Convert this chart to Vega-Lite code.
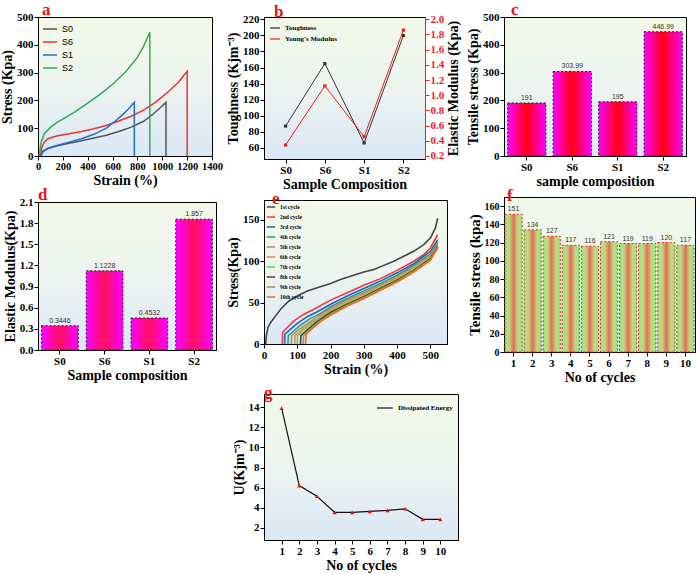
{
  "$schema": "https://vega.github.io/schema/vega-lite/v6.json",
  "background": "white",
  "padding": {"left": 0, "top": 0, "right": 3, "bottom": 0},
  "config": {
    "font": "Liberation Serif",
    "view": {"stroke": "black", "strokeWidth": 1, "fill": {"gradient": "linear", "x1": 0, "y1": 0, "x2": 0, "y2": 1, "stops": [{"offset": 0, "color": "#f2f9e8"}, {"offset": 0.5, "color": "#edf4f0"}, {"offset": 1, "color": "#dae7f5"}]}},
    "axis": {"labelFont": "Liberation Serif", "labelFontWeight": "bold", "labelFontSize": 11, "labelColor": "black", "titleFont": "Liberation Serif", "titleFontWeight": "bold", "titleFontSize": 14, "titleColor": "black", "domainColor": "black", "tickColor": "black", "tickSize": 4, "grid": false, "labelPadding": 1, "titlePadding": 2, "labelAngle": 0, "labelOverlap": false, "labelBound": false, "labelFlush": false},
    "title": {"font": "Liberation Serif", "fontSize": 17, "fontWeight": "bold", "color": "#ee1111", "anchor": "start", "frame": "group", "offset": -8},
    "legend": {"titleFontSize": 0, "padding": 2, "offset": 3}
  },
  "datasets": {
    "curves": [
      {"s":"S0","i":1,"x":20,"y":0},{"s":"S0","i":2,"x":40,"y":18},{"s":"S0","i":3,"x":80,"y":27},{"s":"S0","i":4,"x":150,"y":36},{"s":"S0","i":5,"x":250,"y":46},{"s":"S0","i":6,"x":350,"y":55},{"s":"S0","i":7,"x":450,"y":65},{"s":"S0","i":8,"x":550,"y":75},{"s":"S0","i":9,"x":650,"y":88},{"s":"S0","i":10,"x":750,"y":104},{"s":"S0","i":11,"x":850,"y":125},{"s":"S0","i":12,"x":930,"y":152},{"s":"S0","i":13,"x":990,"y":176},{"s":"S0","i":14,"x":1030,"y":193},{"s":"S0","i":15,"x":1030,"y":0},
      {"s":"S6","i":1,"x":20,"y":0},{"s":"S6","i":2,"x":30,"y":30},{"s":"S6","i":3,"x":50,"y":50},{"s":"S6","i":4,"x":80,"y":62},{"s":"S6","i":5,"x":150,"y":72},{"s":"S6","i":6,"x":250,"y":80},{"s":"S6","i":7,"x":350,"y":88},{"s":"S6","i":8,"x":450,"y":98},{"s":"S6","i":9,"x":550,"y":110},{"s":"S6","i":10,"x":650,"y":126},{"s":"S6","i":11,"x":750,"y":143},{"s":"S6","i":12,"x":850,"y":165},{"s":"S6","i":13,"x":950,"y":195},{"s":"S6","i":14,"x":1050,"y":232},{"s":"S6","i":15,"x":1130,"y":265},{"s":"S6","i":16,"x":1200,"y":305},{"s":"S6","i":17,"x":1200,"y":0},
      {"s":"S1","i":1,"x":25,"y":0},{"s":"S1","i":2,"x":40,"y":15},{"s":"S1","i":3,"x":80,"y":28},{"s":"S1","i":4,"x":150,"y":38},{"s":"S1","i":5,"x":250,"y":50},{"s":"S1","i":6,"x":350,"y":62},{"s":"S1","i":7,"x":450,"y":78},{"s":"S1","i":8,"x":550,"y":100},{"s":"S1","i":9,"x":620,"y":125},{"s":"S1","i":10,"x":680,"y":148},{"s":"S1","i":11,"x":730,"y":170},{"s":"S1","i":12,"x":775,"y":193},{"s":"S1","i":13,"x":775,"y":0},
      {"s":"S2","i":1,"x":10,"y":0},{"s":"S2","i":2,"x":25,"y":50},{"s":"S2","i":3,"x":50,"y":80},{"s":"S2","i":4,"x":100,"y":103},{"s":"S2","i":5,"x":150,"y":120},{"s":"S2","i":6,"x":200,"y":133},{"s":"S2","i":7,"x":300,"y":160},{"s":"S2","i":8,"x":400,"y":190},{"s":"S2","i":9,"x":500,"y":222},{"s":"S2","i":10,"x":600,"y":258},{"s":"S2","i":11,"x":700,"y":300},{"s":"S2","i":12,"x":800,"y":355},{"s":"S2","i":13,"x":850,"y":395},{"s":"S2","i":14,"x":900,"y":445},{"s":"S2","i":15,"x":900,"y":0}
    ],
    "props": [
      {"s":"S0","t":87,"ts":191,"tsl":"191","em":0.3446,"eml":"0.3446"},
      {"s":"S6","t":165,"ts":303.99,"tsl":"303.99","em":1.1228,"eml":"1.1228"},
      {"s":"S1","t":66,"ts":195,"tsl":"195","em":0.4532,"eml":"0.4532"},
      {"s":"S2","t":200,"ts":446.99,"tsl":"446.99","em":1.857,"eml":"1.857"}
    ],
    "cycles": [
      {"c":1,"ts":151,"u":13.9},{"c":2,"ts":134,"u":6.2},{"c":3,"ts":127,"u":5.15},{"c":4,"ts":117,"u":3.55},{"c":5,"ts":116,"u":3.55},{"c":6,"ts":121,"u":3.65},{"c":7,"ts":119,"u":3.75},{"c":8,"ts":119,"u":3.9},{"c":9,"ts":120,"u":2.85},{"c":10,"ts":117,"u":2.85}
    ],
    "ecurves": [
      {"cy":"1st cycle","k":1,"x":5,"y":0},{"cy":"1st cycle","k":2,"x":7,"y":10},{"cy":"1st cycle","k":3,"x":12,"y":20},{"cy":"1st cycle","k":4,"x":20,"y":26},{"cy":"1st cycle","k":5,"x":35,"y":34},{"cy":"1st cycle","k":6,"x":50,"y":42},{"cy":"1st cycle","k":7,"x":75,"y":52},{"cy":"1st cycle","k":8,"x":100,"y":58},{"cy":"1st cycle","k":9,"x":130,"y":64},{"cy":"1st cycle","k":10,"x":160,"y":68},{"cy":"1st cycle","k":11,"x":200,"y":73},{"cy":"1st cycle","k":12,"x":230,"y":78},{"cy":"1st cycle","k":13,"x":260,"y":82},{"cy":"1st cycle","k":14,"x":300,"y":87},{"cy":"1st cycle","k":15,"x":330,"y":90},{"cy":"1st cycle","k":16,"x":360,"y":95},{"cy":"1st cycle","k":17,"x":390,"y":100},{"cy":"1st cycle","k":18,"x":420,"y":106},{"cy":"1st cycle","k":19,"x":450,"y":112},{"cy":"1st cycle","k":20,"x":480,"y":120},{"cy":"1st cycle","k":21,"x":500,"y":128},{"cy":"1st cycle","k":22,"x":515,"y":140},{"cy":"1st cycle","k":23,"x":522,"y":152},
      {"cy":"2nd cycle","k":1,"x":55,"y":0},{"cy":"2nd cycle","k":2,"x":56,"y":14},{"cy":"2nd cycle","k":3,"x":70,"y":20},{"cy":"2nd cycle","k":4,"x":90,"y":28},{"cy":"2nd cycle","k":5,"x":120,"y":36},{"cy":"2nd cycle","k":6,"x":150,"y":42},{"cy":"2nd cycle","k":7,"x":200,"y":53},{"cy":"2nd cycle","k":8,"x":250,"y":62},{"cy":"2nd cycle","k":9,"x":300,"y":71},{"cy":"2nd cycle","k":10,"x":350,"y":79},{"cy":"2nd cycle","k":11,"x":400,"y":89},{"cy":"2nd cycle","k":12,"x":450,"y":100},{"cy":"2nd cycle","k":13,"x":480,"y":108},{"cy":"2nd cycle","k":14,"x":500,"y":116},{"cy":"2nd cycle","k":15,"x":522,"y":132},
      {"cy":"3rd cycle","k":1,"x":62,"y":0},{"cy":"3rd cycle","k":2,"x":63,"y":12},{"cy":"3rd cycle","k":3,"x":80,"y":18},{"cy":"3rd cycle","k":4,"x":100,"y":25},{"cy":"3rd cycle","k":5,"x":130,"y":33},{"cy":"3rd cycle","k":6,"x":160,"y":39},{"cy":"3rd cycle","k":7,"x":200,"y":48},{"cy":"3rd cycle","k":8,"x":250,"y":58},{"cy":"3rd cycle","k":9,"x":300,"y":67},{"cy":"3rd cycle","k":10,"x":350,"y":76},{"cy":"3rd cycle","k":11,"x":400,"y":86},{"cy":"3rd cycle","k":12,"x":450,"y":97},{"cy":"3rd cycle","k":13,"x":500,"y":112},{"cy":"3rd cycle","k":14,"x":522,"y":126},
      {"cy":"4th cycle","k":1,"x":72,"y":0},{"cy":"4th cycle","k":2,"x":73,"y":10},{"cy":"4th cycle","k":3,"x":90,"y":16},{"cy":"4th cycle","k":4,"x":110,"y":23},{"cy":"4th cycle","k":5,"x":140,"y":31},{"cy":"4th cycle","k":6,"x":170,"y":37},{"cy":"4th cycle","k":7,"x":200,"y":45},{"cy":"4th cycle","k":8,"x":250,"y":55},{"cy":"4th cycle","k":9,"x":300,"y":64},{"cy":"4th cycle","k":10,"x":350,"y":73},{"cy":"4th cycle","k":11,"x":400,"y":83},{"cy":"4th cycle","k":12,"x":450,"y":95},{"cy":"4th cycle","k":13,"x":500,"y":109},{"cy":"4th cycle","k":14,"x":522,"y":123},
      {"cy":"5th cycle","k":1,"x":82,"y":0},{"cy":"5th cycle","k":2,"x":83,"y":10},{"cy":"5th cycle","k":3,"x":100,"y":16},{"cy":"5th cycle","k":4,"x":120,"y":22},{"cy":"5th cycle","k":5,"x":150,"y":30},{"cy":"5th cycle","k":6,"x":200,"y":43},{"cy":"5th cycle","k":7,"x":250,"y":53},{"cy":"5th cycle","k":8,"x":300,"y":62},{"cy":"5th cycle","k":9,"x":350,"y":71},{"cy":"5th cycle","k":10,"x":400,"y":81},{"cy":"5th cycle","k":11,"x":450,"y":93},{"cy":"5th cycle","k":12,"x":500,"y":107},{"cy":"5th cycle","k":13,"x":522,"y":121},
      {"cy":"6th cycle","k":1,"x":92,"y":0},{"cy":"6th cycle","k":2,"x":93,"y":10},{"cy":"6th cycle","k":3,"x":110,"y":16},{"cy":"6th cycle","k":4,"x":130,"y":23},{"cy":"6th cycle","k":5,"x":160,"y":30},{"cy":"6th cycle","k":6,"x":200,"y":41},{"cy":"6th cycle","k":7,"x":250,"y":51},{"cy":"6th cycle","k":8,"x":300,"y":60},{"cy":"6th cycle","k":9,"x":350,"y":70},{"cy":"6th cycle","k":10,"x":400,"y":80},{"cy":"6th cycle","k":11,"x":450,"y":92},{"cy":"6th cycle","k":12,"x":500,"y":106},{"cy":"6th cycle","k":13,"x":522,"y":119},
      {"cy":"7th cycle","k":1,"x":100,"y":0},{"cy":"7th cycle","k":2,"x":101,"y":10},{"cy":"7th cycle","k":3,"x":120,"y":17},{"cy":"7th cycle","k":4,"x":150,"y":26},{"cy":"7th cycle","k":5,"x":200,"y":39},{"cy":"7th cycle","k":6,"x":250,"y":49},{"cy":"7th cycle","k":7,"x":300,"y":58},{"cy":"7th cycle","k":8,"x":350,"y":68},{"cy":"7th cycle","k":9,"x":400,"y":78},{"cy":"7th cycle","k":10,"x":450,"y":90},{"cy":"7th cycle","k":11,"x":500,"y":104},{"cy":"7th cycle","k":12,"x":522,"y":116},
      {"cy":"8th cycle","k":1,"x":110,"y":0},{"cy":"8th cycle","k":2,"x":111,"y":10},{"cy":"8th cycle","k":3,"x":130,"y":17},{"cy":"8th cycle","k":4,"x":160,"y":27},{"cy":"8th cycle","k":5,"x":200,"y":38},{"cy":"8th cycle","k":6,"x":250,"y":48},{"cy":"8th cycle","k":7,"x":300,"y":57},{"cy":"8th cycle","k":8,"x":350,"y":67},{"cy":"8th cycle","k":9,"x":400,"y":77},{"cy":"8th cycle","k":10,"x":450,"y":89},{"cy":"8th cycle","k":11,"x":500,"y":103},{"cy":"8th cycle","k":12,"x":522,"y":118},
      {"cy":"9th cycle","k":1,"x":118,"y":0},{"cy":"9th cycle","k":2,"x":119,"y":10},{"cy":"9th cycle","k":3,"x":140,"y":18},{"cy":"9th cycle","k":4,"x":170,"y":28},{"cy":"9th cycle","k":5,"x":200,"y":36},{"cy":"9th cycle","k":6,"x":250,"y":47},{"cy":"9th cycle","k":7,"x":300,"y":56},{"cy":"9th cycle","k":8,"x":350,"y":66},{"cy":"9th cycle","k":9,"x":400,"y":76},{"cy":"9th cycle","k":10,"x":450,"y":88},{"cy":"9th cycle","k":11,"x":500,"y":102},{"cy":"9th cycle","k":12,"x":522,"y":116},
      {"cy":"10th cycle","k":1,"x":125,"y":0},{"cy":"10th cycle","k":2,"x":127,"y":12},{"cy":"10th cycle","k":3,"x":140,"y":17},{"cy":"10th cycle","k":4,"x":170,"y":27},{"cy":"10th cycle","k":5,"x":200,"y":35},{"cy":"10th cycle","k":6,"x":250,"y":46},{"cy":"10th cycle","k":7,"x":300,"y":55},{"cy":"10th cycle","k":8,"x":350,"y":65},{"cy":"10th cycle","k":9,"x":400,"y":75},{"cy":"10th cycle","k":10,"x":450,"y":87},{"cy":"10th cycle","k":11,"x":500,"y":101},{"cy":"10th cycle","k":12,"x":522,"y":117}
    ]
  },
  "spacing": 3,
  "resolve": {"scale": {"color": "independent"}, "legend": {"color": "independent"}},
  "hconcat": [
    {
      "spacing": -3,
      "resolve": {"scale": {"color": "independent"}, "legend": {"color": "independent"}},
      "vconcat": [
        {
          "title": {"text": "a", "dx": 4},
          "width": 174, "height": 139,
          "data": {"name": "curves"},
          "mark": {"type": "line", "strokeWidth": 1.5},
          "encoding": {
            "x": {"field": "x", "type": "quantitative", "scale": {"domain": [0, 1400], "nice": false}, "axis": {"values": [0,200,400,600,800,1000,1200,1400], "format": "d", "title": "Strain (%)", "labelFontSize": 10.5}},
            "y": {"field": "y", "type": "quantitative", "scale": {"domain": [0, 500], "nice": false}, "axis": {"values": [0,100,200,300,400,500], "title": "Stress (Kpa)"}},
            "color": {"field": "s", "type": "nominal", "scale": {"domain": ["S0","S6","S1","S2"], "range": ["#555555","#ee3333","#1f6fd0","#33aa55"]}, "legend": {"orient": "top-left", "title": null, "labelFont": "Liberation Sans", "labelFontSize": 9, "symbolType": "stroke", "symbolSize": 200, "symbolStrokeWidth": 1.5, "rowPadding": 0, "offset": 2}},
            "order": {"field": "i", "type": "quantitative"}
          }
        },
        {
          "title": {"text": "d", "dx": 0},
          "width": 178, "height": 148,
          "data": {"name": "props"},
          "encoding": {
            "x": {"field": "s", "type": "nominal", "sort": ["S0","S6","S1","S2"], "scale": {"paddingInner": 0.18, "paddingOuter": 0.08}, "axis": {"title": "Sample composition"}},
            "y": {"field": "em", "type": "quantitative", "scale": {"domain": [0, 2.1], "nice": false}, "axis": {"values": [0,0.3,0.6,0.9,1.2,1.5,1.8,2.1], "format": ".1f", "title": "Elastic Modulus(Kpa)"}}
          },
          "layer": [
            {"mark": {"type": "bar", "stroke": "#222222", "strokeDash": [2,2], "strokeWidth": 1, "color": {"gradient": "linear", "x1": 0, "y1": 0, "x2": 1, "y2": 0, "stops": [{"offset": 0, "color": "#ff00ff"}, {"offset": 0.5, "color": "#ff1060"}, {"offset": 1, "color": "#ff00ff"}]}}},
            {"mark": {"type": "text", "font": "Liberation Sans", "fontSize": 7, "dy": -5, "color": "#333333"},
             "encoding": {"text": {"field": "eml", "type": "nominal"}}}
          ]
        }
      ]
    },
    {
      "spacing": 6,
      "resolve": {"scale": {"color": "independent"}, "legend": {"color": "independent"}},
      "vconcat": [
        {
          "spacing": -3,
          "resolve": {"scale": {"color": "independent"}, "legend": {"color": "independent"}},
          "vconcat": [
            {
              "title": {"text": "b", "dx": 10},
              "width": 161, "height": 142,
              "data": {"name": "props"},
              "encoding": {
                "x": {"field": "s", "type": "ordinal", "sort": ["S0","S6","S1","S2"], "scale": {"type": "point", "padding": 0.55}, "axis": {"title": "Sample Composition"}}
              },
              "layer": [
                {"mark": {"type": "line", "strokeWidth": 1, "point": {"shape": "square", "size": 10, "filled": true}},
                 "encoding": {
                   "y": {"field": "t", "type": "quantitative", "scale": {"domain": [46, 223], "nice": false}, "axis": {"values": [60,80,100,120,140,160,180,200,220], "title": "Toughness (Kjm⁻³)"}},
                   "color": {"datum": "Toughness", "scale": {"domain": ["Toughness","Young's Modulus"], "range": ["#333333","#ee1c1c"]}, "legend": {"orient": "top-left", "title": null, "labelFont": "Liberation Serif", "labelFontWeight": "bold", "labelFontSize": 7, "symbolType": "stroke", "symbolSize": 100, "symbolStrokeWidth": 1.2, "rowPadding": 2, "offset": 3, "padding": 2}}
                 }},
                {"mark": {"type": "line", "strokeWidth": 1, "point": {"shape": "square", "size": 10, "filled": true}},
                 "encoding": {
                   "y": {"field": "em", "type": "quantitative", "scale": {"domain": [0.16, 2.03], "nice": false}, "axis": {"orient": "right", "values": [0.2,0.4,0.6,0.8,1.0,1.2,1.4,1.6,1.8,2.0], "format": ".1f", "labelColor": "#ee1c1c", "domainColor": "#ee1c1c", "tickColor": "#ee1c1c", "title": "Elastic Modulus (Kpa)", "titleAngle": 270, "titleBaseline": "top", "titlePadding": 3}},
                   "color": {"datum": "Young's Modulus"}
                 }}
              ],
              "resolve": {"scale": {"y": "independent"}}
            },
            {
              "title": {"text": "e", "dx": 8},
              "width": 183, "height": 144,
              "data": {"name": "ecurves"},
              "mark": {"type": "line", "strokeWidth": 1.6},
              "encoding": {
                "x": {"field": "x", "type": "quantitative", "scale": {"domain": [0, 550], "nice": false}, "axis": {"values": [0,100,200,300,400,500], "title": "Strain (%)"}},
                "y": {"field": "y", "type": "quantitative", "scale": {"domain": [0, 174], "nice": false}, "axis": {"values": [0,50,100,150], "title": "Stress(Kpa)"}},
                "color": {"field": "cy", "type": "nominal", "scale": {"domain": ["1st cycle","2nd cycle","3rd cycle","4th cycle","5th cycle","6th cycle","7th cycle","8th cycle","9th cycle","10th cycle"], "range": ["#444444","#ff3333","#1e63c8","#1fa37a","#c08080","#d9924f","#4ee04e","#5a3a3a","#9a9a50","#f26b1d"]}, "legend": {"orient": "top-left", "title": null, "labelFont": "Liberation Serif", "labelFontWeight": "bold", "labelFontSize": 5.5, "symbolType": "stroke", "symbolSize": 70, "symbolStrokeWidth": 1.5, "rowPadding": 1, "offset": 1, "padding": 1}},
                "order": {"field": "k", "type": "quantitative"}
              }
            }
          ]
        },
        {
          "title": {"text": "g", "dx": 0},
          "width": 194, "height": 146,
          "data": {"name": "cycles"},
          "encoding": {
            "x": {"field": "c", "type": "quantitative", "scale": {"domain": [0, 11], "nice": false}, "axis": {"values": [1,2,3,4,5,6,7,8,9,10], "title": "No of cycles"}},
            "y": {"field": "u", "type": "quantitative", "scale": {"domain": [0.8, 15.3], "nice": false}, "axis": {"values": [2,4,6,8,10,12,14], "title": "U(Kjm⁻³)"}}
          },
          "layer": [
            {"mark": {"type": "line", "strokeWidth": 1.2},
             "encoding": {
               "color": {"datum": "Dissipated Energy", "scale": {"domain": ["Dissipated Energy"], "range": ["#111111"]}, "legend": {"orient": "top-right", "title": null, "labelFont": "Liberation Serif", "labelFontWeight": "bold", "labelFontSize": 7, "symbolType": "stroke", "symbolSize": 250, "symbolStrokeWidth": 1.2, "offset": 3, "padding": 2}}
             }},
            {"mark": {"type": "point", "shape": "triangle-up", "filled": true, "color": "#ee1111", "size": 18, "opacity": 1}}
          ]
        }
      ]
    },
    {
      "spacing": -3,
      "resolve": {"scale": {"color": "independent"}, "legend": {"color": "independent"}},
      "vconcat": [
        {
          "title": {"text": "c", "dx": 7},
          "width": 182, "height": 139,
          "data": {"name": "props"},
          "encoding": {
            "x": {"field": "s", "type": "nominal", "sort": ["S0","S6","S1","S2"], "scale": {"paddingInner": 0.16, "paddingOuter": 0.08}, "axis": {"title": "sample composition"}},
            "y": {"field": "ts", "type": "quantitative", "scale": {"domain": [0, 500], "nice": false}, "axis": {"values": [0,100,200,300,400,500], "title": "Tensile stress (Kpa)"}}
          },
          "layer": [
            {"mark": {"type": "bar", "stroke": "#222222", "strokeDash": [2,2], "strokeWidth": 1, "color": {"gradient": "linear", "x1": 0, "y1": 0, "x2": 1, "y2": 0, "stops": [{"offset": 0, "color": "#ff00ff"}, {"offset": 0.5, "color": "#ff0010"}, {"offset": 1, "color": "#ff00ff"}]}}},
            {"mark": {"type": "text", "font": "Liberation Sans", "fontSize": 7, "dy": -5, "color": "#333333"},
             "encoding": {"text": {"field": "tsl", "type": "nominal"}}}
          ]
        },
        {
          "title": {"text": "f", "dx": 3},
          "width": 191, "height": 155,
          "data": {"name": "cycles"},
          "encoding": {
            "x": {"field": "c", "type": "ordinal", "scale": {"paddingInner": 0.1, "paddingOuter": 0.05}, "axis": {"title": "No of cycles"}},
            "y": {"field": "ts", "type": "quantitative", "scale": {"domain": [0, 170], "nice": false}, "axis": {"values": [0,20,40,60,80,100,120,140,160], "title": "Tensile stress (kpa)", "labelFontSize": 10, "titleFontSize": 15}}
          },
          "layer": [
            {"mark": {"type": "bar", "stroke": "#ff2020", "strokeDash": [2,2], "strokeWidth": 1, "color": {"gradient": "linear", "x1": 0, "y1": 0, "x2": 1, "y2": 0, "stops": [{"offset": 0, "color": "#7ef27e"}, {"offset": 0.25, "color": "#c9d47e"}, {"offset": 0.5, "color": "#e0705a"}, {"offset": 0.75, "color": "#c9d47e"}, {"offset": 1, "color": "#7ef27e"}]}}},
            {"mark": {"type": "text", "font": "Liberation Sans", "fontSize": 7, "dy": -5, "color": "#333333"},
             "encoding": {"text": {"field": "ts", "type": "nominal"}}}
          ]
        }
      ]
    }
  ]
}
